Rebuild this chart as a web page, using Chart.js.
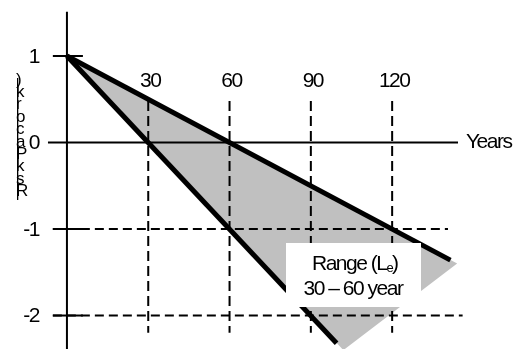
<!DOCTYPE html>
<html>
<head>
<meta charset="utf-8">
<script src="https://cdn.jsdelivr.net/npm/chart.js@4/dist/chart.umd.min.js"></script>
<style>
  html, body { margin: 0; padding: 0; background: #fff; }
  #wrap { width: 516px; height: 349px; position: relative; }
</style>
</head>
<body>
<div id="wrap"><canvas id="chart"></canvas></div>
<script>
// values
const tickYears = [30, 60, 90, 120];
const riskTicks = [1, 0, -1, -2];
const axisTitle = [")", "k", "r", "o", "c", "a", "P", "k", "s", "R"];

// the two thick lines and the grey band between them
const upperX = [0, 141.5];
const upperY = [1, -1.36];
const lowerX = [0, 99.5];
const lowerY = [1, -2.32];
const bandX = [0, 144, 102, 0];
const bandY = [1, -1.4, -2.4, 1];

// guide lines
const guideTop = 0.48;
const guideBottom = -2.2;
const dashRisk = [-1, -2];
const dashEnd = [140.6, 146];
const tickMarks = [1, -1, -2];

function pts(xs, ys) {
  return xs.map((x, i) => ({ x: x, y: ys[i] }));
}

function line(data, opts) {
  return Object.assign({
    data: data,
    showLine: true,
    pointRadius: 0,
    borderColor: "#000",
    borderWidth: 2,
    fill: false,
    tension: 0,
    borderCapStyle: "butt",
  }, opts);
}

let datasets = [];

// grey range band
datasets.push(line(pts(bandX, bandY), { fill: "shape", backgroundColor: "#c0c0c0", borderWidth: 0, borderColor: "rgba(0,0,0,0)", order: 6 }));

// dashed verticals
tickYears.forEach((yr) => {
  datasets.push(line(pts([yr, yr], [guideTop, guideBottom]), { borderDash: [10, 5], order: 5 }));
});
// dashed horizontals
dashRisk.forEach((r, i) => {
  datasets.push(line(pts([-5.2, dashEnd[i]], [r, r]), { borderDash: [9, 5], order: 5 }));
});

// axes
datasets.push(line(pts([0, 0], [1.51, -2.6]), { order: 3 }));
datasets.push(line(pts([-7, 144.3], [0, 0]), { order: 3 }));
// short solid ticks
tickMarks.forEach((r) => {
  datasets.push(line(pts([-5.2, 5.9], [r, r]), { order: 3 }));
});

// thick lines
datasets.push(line(pts(upperX, upperY), { borderWidth: 5, order: 1 }));
datasets.push(line(pts(lowerX, lowerY), { borderWidth: 5, order: 1 }));

const FONT = '21px "Liberation Sans", Arial, sans-serif';

const labelsPlugin = {
  id: "labels",
  afterDatasetsDraw(chart) {
    const ctx = chart.ctx;
    const xs = chart.scales.x;
    const ys = chart.scales.y;
    ctx.save();
    ctx.fillStyle = "#000";
    ctx.font = FONT;
    ctx.letterSpacing = "-1.5px";
    ctx.textBaseline = "middle";

    // year labels above the lines
    ctx.textAlign = "center";
    tickYears.forEach((yr) => {
      ctx.fillText(String(yr), xs.getPixelForValue(yr) + 2, 81);
    });

    // risk labels
    ctx.textAlign = "right";
    riskTicks.forEach((r) => {
      ctx.fillText(String(r), 39, ys.getPixelForValue(r) + 1);
    });

    // axis name
    ctx.textAlign = "left";
    ctx.fillText("Years", 466, ys.getPixelForValue(0));

    // stacked y title
    ctx.font = '17px "Liberation Sans", Arial, sans-serif';
    ctx.letterSpacing = "0px";
    ctx.textAlign = "left";
    axisTitle.forEach((ch, i) => {
      ctx.fillText(ch, 16, 80 + i * 12.4);
    });
    ctx.fillRect(17, 78, 1.3, 122);

    // range note
    ctx.fillStyle = "#fff";
    ctx.fillRect(286, 243, 135, 64);
    ctx.fillStyle = "#000";
    ctx.font = FONT;
    ctx.letterSpacing = "-1.5px";
    ctx.textAlign = "left";
    const t1 = "Range (L";
    const w1 = ctx.measureText(t1).width;
    const x1 = 312;
    ctx.fillText(t1, x1, 264);
    ctx.font = '13px "Liberation Sans", Arial, sans-serif';
    ctx.fillText("e", x1 + w1, 268);
    const we = ctx.measureText("e").width;
    ctx.font = FONT;
    ctx.fillText(")", x1 + w1 + we, 264);
    ctx.textAlign = "center";
    ctx.fillText("30 \u2013 60 year", 353, 289);
    ctx.restore();
  },
};

new Chart(document.getElementById("chart"), {
  type: "scatter",
  data: { datasets: datasets },
  options: {
    responsive: true,
    maintainAspectRatio: false,
    animation: false,
    layout: { padding: 0 },
    scales: {
      x: { type: "linear", min: -24.7, max: 165.7, display: false },
      y: { type: "linear", min: -2.387, max: 1.647, display: false },
    },
    plugins: {
      legend: { display: false },
      tooltip: { enabled: false },
    },
  },
  plugins: [labelsPlugin],
});
</script>
</body>
</html>
